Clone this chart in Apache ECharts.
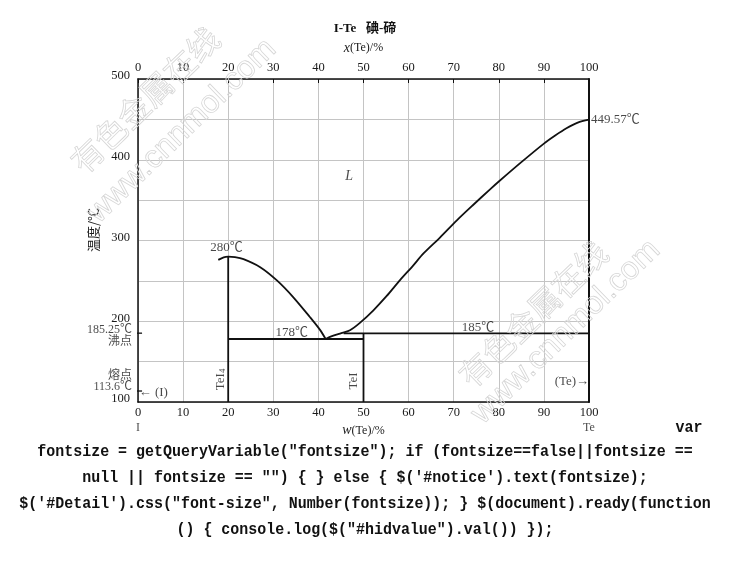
<!DOCTYPE html>
<html><head><meta charset="utf-8">
<script src="https://cdn.jsdelivr.net/npm/echarts@6/dist/echarts.min.js"></script>
<style>html,body{margin:0;padding:0;background:#fff;}#c{width:730px;height:579px;}</style>
</head><body><div id="c"></div>
<script>
// ---- data ----
const xTicks = [0,10,20,30,40,50,60,70,80,90,100];
const yTicks = [100,200,300,400,500];
const leftLiquidus = [[17.8,276],[19,279.2],[20,280],[21.5,279.5],[23.4,277],[27.1,267],[30.8,250.6],[34.4,230],[38.1,205.3],[40.4,189],[41.6,178]];
const rightLiquidus = [[41.6,178],[43,181.5],[44.8,184.8],[47,188.9],[49.2,198],[52.2,213.6],[55.1,231],[58.1,251],[61,269],[63.3,284],[67,304],[70.7,325],[74.3,344],[78,363],[80,373],[85,397],[90,420],[92.5,430],[95,439],[97.5,446],[100,449.57]];
const teI4Line = [[20,100],[20,280]];
const teILine = [[50,100],[50,185]];
const eutecticLine = [[20,178],[50,178]];
const line185 = [[45.6,185],[100,185]];
const boilTick = [[-1.2,185.25],[0.9,185.25]];
const meltTick = [[-1.2,113.6],[0.9,113.6]];
const pointLabels = [
  {text:'280℃', coord:[19.6,291]},
  {text:'178℃', coord:[34.1,186.5]},
  {text:'185℃', coord:[75.4,192.5]},
  {text:'← (I)', coord:[3.4,112]},
  {text:'(Te)→', coord:[96.2,125]}
];
const sideLabels = [
  {text:'185.25℃', coord:[0,189]},
  {text:'沸点', coord:[0,175]},
  {text:'熔点', coord:[0,133]},
  {text:'113.6℃', coord:[0,118.5]}
];
const meltLabel = {text:'449.57℃', coord:[100,449.57]};
const phaseL = {text:'L', coord:[46.8,379]};
const compoundLabels = [
  {text:'TeI{s|4}', coord:[18.2,128]},
  {text:'TeI', coord:[47.7,126]}
];
const endLabels = [{text:'I', coord:[0,100]},{text:'Te', coord:[100,100]}];
const codeLines = [
  'fontsize = getQueryVariable("fontsize"); if (fontsize==false||fontsize ==',
  'null || fontsize == "") { } else { $(\'#notice\').text(fontsize);',
  '$(\'#Detail\').css("font-size", Number(fontsize)); } $(document).ready(function',
  '() { console.log($("#hidvalue").val()) });'
];

// ---- chart ----
const SERIF = "'Liberation Serif','Noto Sans CJK SC',serif";
const TXT = '#1a1a1a';
const chart = echarts.init(document.getElementById('c'), null, {renderer:'canvas'});

function seg(data, w) {
  return {type:'line', data:data, symbol:'none', silent:true, clip:false,
    lineStyle:{color:'#111', width:w||1.8}, z:5, animation:false};
}
function labelSeries(items, labelCfg) {
  return {type:'scatter', symbolSize:0, silent:true, z:6, animation:false,
    data: items.map(d => ({value:d.coord, name:d.text})),
    label: Object.assign({show:true, formatter: p => p.name, color:TXT,
      fontFamily:SERIF, fontSize:13}, labelCfg)};
}

const axisCommon = {
  type:'value', min:0, max:100, interval:10,
  axisLine:{show:true, onZero:false, lineStyle:{color:'#111', width:1.5}},
  axisLabel:{color:TXT, fontFamily:SERIF, fontSize:12.5},
};

const option = {
  backgroundColor:'#fff',
  animation:false,
  title:{text:'I-Te   碘-碲', left:'center', top:17,
    textStyle:{fontFamily:"'Liberation Serif','Noto Sans CJK SC',serif", fontSize:13, fontWeight:'bold', color:'#111'}},
  grid:{left:138, right:141, top:79, bottom:177, containLabel:false, outerBoundsMode:'none'},
  xAxis:[
    Object.assign({}, axisCommon, {position:'bottom',
      axisTick:{show:false},
      axisLabel:Object.assign({}, axisCommon.axisLabel, {margin:4}),
      splitLine:{show:true, lineStyle:{color:'#c4c4c4', width:1}},
      name:'{i|w}(Te)/%', nameLocation:'middle', nameGap:19,
      nameTextStyle:{color:TXT, fontFamily:SERIF, fontSize:12,
        rich:{i:{fontStyle:'italic', fontFamily:SERIF, fontSize:14, color:TXT}}}}),
    Object.assign({}, axisCommon, {position:'top',
      axisTick:{show:true, inside:true, length:4, lineStyle:{color:'#111'}},
      axisLabel:Object.assign({}, axisCommon.axisLabel, {margin:5}),
      splitLine:{show:false},
      name:'{i|x}(Te)/%', nameLocation:'middle', nameGap:24,
      nameTextStyle:{color:TXT, fontFamily:SERIF, fontSize:12,
        rich:{i:{fontStyle:'italic', fontFamily:SERIF, fontSize:14, color:TXT}}}})
  ],
  yAxis:[
    {type:'value', min:100, max:500, interval:50, position:'left',
     axisLine:{show:true, onZero:false, lineStyle:{color:'#111', width:1.5}},
     axisTick:{show:false},
     axisLabel:{color:TXT, fontFamily:SERIF, fontSize:12.5, margin:8, verticalAlign:'bottom', lineHeight:6,
       formatter: v => yTicks.indexOf(v) >= 0 ? String(v) : ''},
     splitLine:{show:true, lineStyle:{color:'#c4c4c4', width:1}}},
    {type:'value', min:100, max:500, interval:50, position:'right',
     axisLine:{show:true, onZero:false, lineStyle:{color:'#111', width:2}},
     axisTick:{show:false}, axisLabel:{show:false}, splitLine:{show:false}}
  ],
  series:[
    Object.assign(seg(leftLiquidus), {smooth:0.3}),
    Object.assign(seg(rightLiquidus), {smooth:0.3}),
    seg(teI4Line), seg(teILine), seg(eutecticLine), seg(line185),
    seg(boilTick, 1.3), seg(meltTick, 1.3),
    labelSeries(pointLabels, {position:'inside'}),
    labelSeries(sideLabels, {position:'left', distance:6, fontSize:12}),
    labelSeries([meltLabel], {position:'right', distance:2}),
    labelSeries([phaseL], {position:'inside', fontStyle:'italic', fontSize:14}),
    labelSeries(compoundLabels, {position:'inside', rotate:90,
      rich:{s:{fontFamily:SERIF, fontSize:9, color:TXT, verticalAlign:'bottom', padding:[6,0,0,0]}}}),
    labelSeries(endLabels, {position:'bottom', distance:20, fontSize:12})
  ],
  graphic:[
    {type:'text', x:93, y:230, rotation:Math.PI/2, silent:true,
     style:{text:'温度/℃', font:"13px 'Noto Sans CJK SC'", fill:TXT, align:'center', verticalAlign:'middle'}},
    {type:'text', x:689, y:428, scaleX:0.88, silent:true,
     style:{text:'var', font:"bold 17px 'Liberation Mono'", fill:'#111', align:'center', verticalAlign:'middle'}},
  ].concat(codeLines.map((t,i) => ({type:'text', x:365, y:452 + i*26, scaleX:0.88, silent:true,
     style:{text:t, font:"bold 17px 'Liberation Mono'", fill:'#111', align:'center', verticalAlign:'middle'}})))
   .concat([
    {type:'text', x:145, y:100, rotation:0.77, silent:true, z:100,
     style:{text:'有色金属在线', font:"32px 'Noto Sans CJK SC'", fill:'rgba(255,255,255,0)', stroke:'#d6d6d6', lineWidth:0.8, align:'center', verticalAlign:'middle'}},
    {type:'text', x:182, y:131, rotation:0.77, silent:true, z:100,
     style:{text:'www.cnnmol.com', font:"32px 'Liberation Sans'", fill:'rgba(255,255,255,0)', stroke:'#d6d6d6', lineWidth:0.8, align:'center', verticalAlign:'middle'}},
    {type:'text', x:533, y:314, rotation:0.77, silent:true, z:100,
     style:{text:'有色金属在线', font:"32px 'Noto Sans CJK SC'", fill:'rgba(255,255,255,0)', stroke:'#d6d6d6', lineWidth:0.8, align:'center', verticalAlign:'middle'}},
    {type:'text', x:566, y:332, rotation:0.77, silent:true, z:100,
     style:{text:'www.cnnmol.com', font:"32px 'Liberation Sans'", fill:'rgba(255,255,255,0)', stroke:'#d6d6d6', lineWidth:0.8, align:'center', verticalAlign:'middle'}}
   ])
};
chart.setOption(option);
</script></body></html>
